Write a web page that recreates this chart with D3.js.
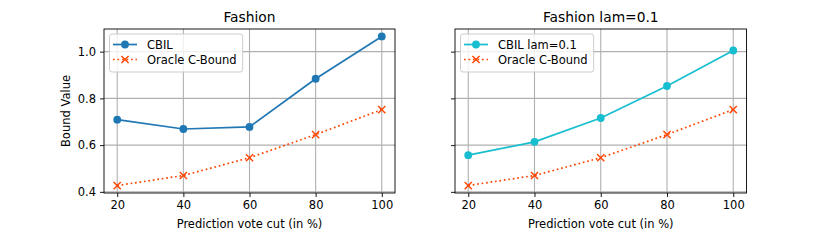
<!DOCTYPE html>
<html>
<head>
<meta charset="utf-8">
<script src="https://cdn.jsdelivr.net/npm/d3@7"></script>
<style>
  body { margin: 0; background: #fff; }
  svg { display: block; font-family: "DejaVu Sans", sans-serif; }
</style>
</head>
<body>
<svg id="chart" width="830" height="241"></svg>
<script>
const cuts = [20, 40, 60, 80, 100];
const cbil = [0.709, 0.669, 0.678, 0.884, 1.065];
const cbilLam = [0.557, 0.614, 0.716, 0.853, 1.005];
const oracle = [0.427, 0.470, 0.546, 0.645, 0.752];
const xTicks = [20, 40, 60, 80, 100];
const yTicks = [0.4, 0.6, 0.8, 1.0];
const titles = ["Fashion", "Fashion lam=0.1"];
const mainLabels = ["CBIL", "CBIL lam=0.1"];
const oracleLabel = "Oracle C-Bound";

(function () {
const svg = d3.select("#chart");
const panels = [
  { left: 104, right: 395, title: titles[0], label: mainLabels[0], values: cbil, color: "#1f77b4", showY: true },
  { left: 455, right: 746.5, title: titles[1], label: mainLabels[1], values: cbilLam, color: "#17becf", showY: false }
];
const plotTop = 29, plotBottom = 193;
const oracleColor = "#ff4500";
const fs = 11.5, titleFs = 13.8;

const allY = cbil.concat(cbilLam, oracle);
const yMin = d3.min(allY), yMax = d3.max(allY), yPad = (yMax - yMin) * 0.05;
const xMin = d3.min(cuts), xMax = d3.max(cuts), xPad = (xMax - xMin) * 0.05;
const xm = 3.6;

panels.forEach(p => {
  const x = d3.scaleLinear().domain([xMin - xPad, xMax + xPad]).range([p.left, p.right]);
  const y = d3.scaleLinear().domain([yMin - yPad, yMax + yPad]).range([plotBottom, plotTop]);
  const g = svg.append("g");

  // grid
  g.selectAll(".gx").data(xTicks).join("line")
    .attr("x1", d => x(d)).attr("x2", d => x(d)).attr("y1", plotTop).attr("y2", plotBottom)
    .attr("stroke", "#b0b0b0").attr("stroke-width", 1.1);
  g.selectAll(".gy").data(yTicks).join("line")
    .attr("y1", d => y(d)).attr("y2", d => y(d)).attr("x1", p.left).attr("x2", p.right)
    .attr("stroke", "#b0b0b0").attr("stroke-width", 1.1);

  // axes
  const xAxis = d3.axisBottom(x).tickValues(xTicks).tickSize(4).tickPadding(4).tickFormat(d3.format("d"));
  const gx = g.append("g").attr("transform", `translate(0,${plotBottom})`).call(xAxis);
  gx.select(".domain").remove();
  gx.selectAll("text").attr("font-size", fs).attr("fill", "#000").attr("font-family", "DejaVu Sans");
  gx.selectAll("line").attr("stroke", "#000").attr("stroke-width", 0.9);

  const yAxis = d3.axisLeft(y).tickValues(yTicks).tickSize(4).tickPadding(4)
    .tickFormat(p.showY ? d3.format(".1f") : () => "");
  const gy = g.append("g").attr("transform", `translate(${p.left},0)`).call(yAxis);
  gy.select(".domain").remove();
  gy.selectAll("text").attr("font-size", fs).attr("fill", "#000").attr("font-family", "DejaVu Sans");
  gy.selectAll("line").attr("stroke", "#000").attr("stroke-width", 0.9);

  // oracle line
  const line = d3.line().x((d, i) => x(cuts[i])).y(d => y(d));
  g.append("path").datum(oracle).attr("d", line).attr("fill", "none")
    .attr("stroke", oracleColor).attr("stroke-width", 1.7).attr("stroke-dasharray", "1.7,2.8");
  oracle.forEach((v, i) => {
    const cx = x(cuts[i]), cy = y(v);
    g.append("path").attr("d", `M${cx - xm},${cy - xm}L${cx + xm},${cy + xm}M${cx - xm},${cy + xm}L${cx + xm},${cy - xm}`)
      .attr("stroke", oracleColor).attr("stroke-width", 1.4).attr("fill", "none");
  });

  // main line
  g.append("path").datum(p.values).attr("d", line).attr("fill", "none")
    .attr("stroke", p.color).attr("stroke-width", 1.7);
  g.selectAll(".pt").data(p.values).join("circle")
    .attr("cx", (d, i) => x(cuts[i])).attr("cy", d => y(d)).attr("r", 3.9)
    .attr("fill", p.color);

  // spines
  g.append("rect").attr("x", p.left).attr("y", plotTop).attr("width", p.right - p.left).attr("height", plotBottom - plotTop)
    .attr("fill", "none").attr("stroke", "#000").attr("stroke-width", 0.9);

  // title
  g.append("text").attr("x", (p.left + p.right) / 2).attr("y", 22).attr("text-anchor", "middle")
    .attr("font-size", titleFs).text(p.title);
  // x label
  g.append("text").attr("x", (p.left + p.right) / 2).attr("y", 228).attr("text-anchor", "middle")
    .attr("font-size", fs).text("Prediction vote cut (in %)");

  // legend
  const lx = p.left + 5.5, ly = 34;
  const lg = g.append("g");
  const items = [
    { label: p.label, color: p.color, kind: "circle" },
    { label: oracleLabel, color: oracleColor, kind: "x" }
  ];
  const rect = lg.append("rect").attr("x", lx).attr("y", ly).attr("height", 38).attr("rx", 2.5)
    .attr("fill", "#fff").attr("fill-opacity", 0.8).attr("stroke", "#cccccc").attr("stroke-width", 1);
  let maxW = 0;
  items.forEach((it, i) => {
    const cy = ly + 10.5 + i * 15;
    const x1 = lx + 3.5, x2 = lx + 27.5, mx = (x1 + x2) / 2;
    const ln = lg.append("line").attr("x1", x1).attr("x2", x2).attr("y1", cy).attr("y2", cy)
      .attr("stroke", it.color).attr("stroke-width", 1.7);
    if (it.kind === "circle") {
      lg.append("circle").attr("cx", mx).attr("cy", cy).attr("r", 3.9).attr("fill", it.color);
    } else {
      ln.attr("stroke-dasharray", "1.7,2.8");
      lg.append("path").attr("d", `M${mx - xm},${cy - xm}L${mx + xm},${cy + xm}M${mx - xm},${cy + xm}L${mx + xm},${cy - xm}`)
        .attr("stroke", it.color).attr("stroke-width", 1.4);
    }
    const t = lg.append("text").attr("x", lx + 37.5).attr("y", cy + 4.2).attr("font-size", fs).text(it.label);
    maxW = Math.max(maxW, t.node().getComputedTextLength());
  });
  rect.attr("width", 37.5 + maxW + 6);
});

// y label
svg.append("text").attr("transform", "translate(70,111) rotate(-90)").attr("text-anchor", "middle")
  .attr("font-size", fs).text("Bound Value");
})();
</script>
</body>
</html>
